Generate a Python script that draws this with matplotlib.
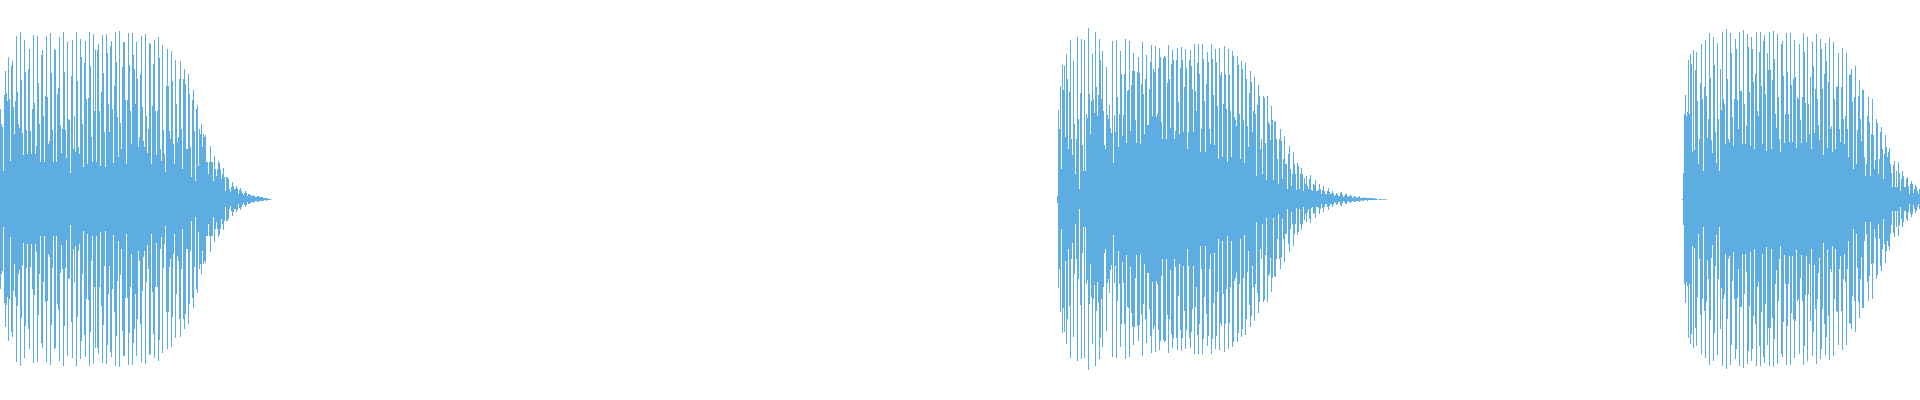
from matplotlib import pyplot as plt
import numpy as np

# amplitude of each column of the waveform, one list per sound
burst_a = [
    90, 75, 72, 28, 104, 128, 106, 98, 142, 100, 38, 133, 138,
    92, 65, 98, 163, 107, 75, 71, 167, 119, 66, 44, 159, 127,
    69, 45, 130, 150, 68, 45, 90, 164, 96, 45, 53, 163, 116,
    75, 37, 144, 149, 83, 37, 103, 163, 102, 55, 58, 166, 126,
    69, 37, 150, 149, 37, 105, 111, 162, 74, 46, 70, 167, 127,
    69, 41, 157, 80, 79, 26, 123, 159, 50, 83, 47, 167, 118,
    52, 45, 160, 142, 75, 32, 136, 158, 100, 35, 101, 167, 133,
    62, 37, 165, 88, 149, 37, 149, 155, 88, 33, 107, 164, 126,
    67, 32, 165, 146, 95, 67, 153, 158, 90, 36, 113, 167, 137,
    82, 42, 168, 76, 50, 132, 157, 157, 99, 35, 99, 166, 134,
    88, 55, 166, 144, 130, 95, 157, 120, 52, 62, 125, 163, 92,
    58, 52, 165, 83, 46, 70, 156, 155, 35, 93, 135, 159, 88,
    44, 88, 162, 141, 50, 38, 154, 69, 45, 27, 113, 150, 113,
    68, 60, 148, 118, 55, 35, 139, 95, 57, 62, 120, 138, 70,
    30, 120, 130, 115, 50, 50, 125, 105, 52, 22, 99, 109, 68,
    18, 90, 94, 33, 70, 65, 75, 52, 65, 62, 64, 37, 37,
    25, 37, 53, 37, 37, 18, 43, 30, 23, 30, 38, 36, 30,
    20, 25, 31, 22, 8, 22, 22, 20, 10, 7, 12, 17, 13,
    10, 10, 13, 11, 5, 9, 11, 8, 6, 4, 6, 8, 6,
    3, 5, 5, 4, 3, 3, 4, 3, 2, 2, 3, 3, 2,
    2, 2, 2, 1.5, 1, 1, 1.5, 1, .5, .5, .5,
]
burst_b = [
    3.5, 89, 70, 113, 30, 134, 109, 133, 62, 145, 120, 50, 107,
    159, 60, 44, 138, 75, 25, 60, 162, 80, 10, 106, 160, 54,
    28, 159, 28, 85, 81, 171, 105, 65, 98, 145, 100, 86, 167,
    112, 83, 104, 160, 139, 100, 148, 88, 54, 50, 132, 84, 80,
    94, 71, 66, 158, 36, 84, 67, 159, 102, 52, 85, 148, 125,
    63, 84, 125, 160, 56, 108, 109, 158, 68, 114, 128, 146, 128,
    79, 56, 127, 142, 126, 55, 115, 157, 105, 65, 120, 144, 74,
    74, 110, 137, 154, 83, 130, 127, 153, 82, 85, 131, 151, 142,
    77, 60, 141, 143, 142, 60, 116, 154, 120, 71, 135, 149, 139,
    60, 68, 139, 151, 97, 65, 131, 152, 139, 67, 112, 150, 131,
    50, 67, 139, 149, 133, 110, 67, 155, 108, 88, 136, 155, 125,
    47, 70, 155, 140, 98, 47, 115, 147, 137, 70, 55, 155, 140,
    104, 54, 150, 137, 93, 40, 151, 124, 127, 42, 95, 153, 125,
    90, 37, 150, 124, 88, 42, 148, 143, 82, 79, 73, 143, 134,
    85, 40, 138, 130, 79, 36, 136, 120, 73, 52, 106, 128, 117,
    67, 88, 122, 85, 23, 94, 114, 103, 50, 60, 25, 103, 101,
    56, 19, 103, 77, 75, 59, 93, 79, 19, 77, 78, 60, 40,
    15, 60, 70, 58, 20, 40, 63, 35, 35, 10, 45, 53, 30,
    13, 25, 47, 35, 25, 9, 36, 33, 10, 25, 31, 25, 8,
    21, 15, 23, 13, 10, 20, 24, 9, 8, 15, 14, 19, 8,
    8, 9, 15, 10, 5, 9, 13, 8, 5, 5, 8, 11, 7,
    5, 5, 8, 6, 3, 4, 6, 5, 3, 3, 6, 7, 4,
    2, 3, 5, 5, 3, 2, 3, 4, 3, 1.5, 2, 3, 2.5,
    2, 1.5, 2, 3, 1.5, 1, 1.5, 2, 1, 1, 1, 1.5, 1,
    1, 1, 1, 1, 1, .5, 1, .5, .5, 0, .5, .5, .5, 0, .5, .5, 0, .5,
]
burst_c = [
    .7, 26, 85, 104, 83, 87, 139, 85, 145, 135, 47, 149, 49,
    129, 147, 98, 35, 60, 116, 155, 100, 28, 112, 159, 103, 61,
    80, 166, 121, 59, 46, 162, 134, 67, 36, 156, 80, 28, 130,
    89, 167, 100, 95, 55, 170, 120, 60, 57, 166, 146, 82, 53,
    100, 160, 150, 99, 70, 167, 108, 108, 55, 169, 95, 55, 73,
    165, 152, 107, 53, 162, 150, 117, 50, 125, 167, 88, 83, 147,
    167, 113, 55, 158, 164, 105, 48, 146, 129, 167, 129, 50, 119,
    168, 140, 85, 71, 165, 102, 60, 47, 155, 158, 123, 56, 85,
    166, 127, 85, 57, 166, 114, 57, 120, 159, 122, 51, 102, 100,
    155, 79, 56, 102, 166, 147, 96, 57, 162, 95, 65, 122, 50,
    157, 133, 66, 110, 165, 100, 74, 59, 160, 150, 110, 44, 125,
    156, 138, 51, 117, 161, 70, 73, 47, 157, 100, 50, 112, 113,
    146, 70, 57, 112, 151, 80, 55, 83, 146, 70, 42, 124, 125,
    130, 97, 30, 102, 133, 35, 69, 103, 119, 80, 58, 109, 109,
    42, 23, 35, 83, 102, 77, 23, 65, 100, 64, 30, 39, 80,
    76, 25, 40, 67, 72, 50, 20, 45, 64, 52, 42, 47, 51,
    35, 26, 12, 34, 38, 12, 28, 12, 37, 26, 8, 20, 28,
    23, 12, 12, 20, 22, 13, 5, 15, 18, 15, 6, 10, 14, 12, 8, 5, 10,
]

start_a = 0
start_b = 1057
start_c = 1682

fig = plt.figure(figsize=(19.2, 4), dpi=100)
ax = plt.Axes(fig, [0., 0., 1., 1.])
fig.add_axes(ax)

for start, amp in [(start_a, burst_a), (start_b, burst_b), (start_c, burst_c)]:
    amp = np.array(amp)
    # one pixel wide column per value, mirrored around the centre line
    ax.bar(start + np.arange(len(amp)), 2 * amp, width=1, bottom=-amp, align='edge',
           color='#5DADE2', linewidth=0, antialiased=False)

ax.set_xlim(0, 1920)
ax.set_ylim(-200.7, 199.3)
ax.set_axis_off()

fig.savefig('out.png', dpi=100, facecolor='white')
